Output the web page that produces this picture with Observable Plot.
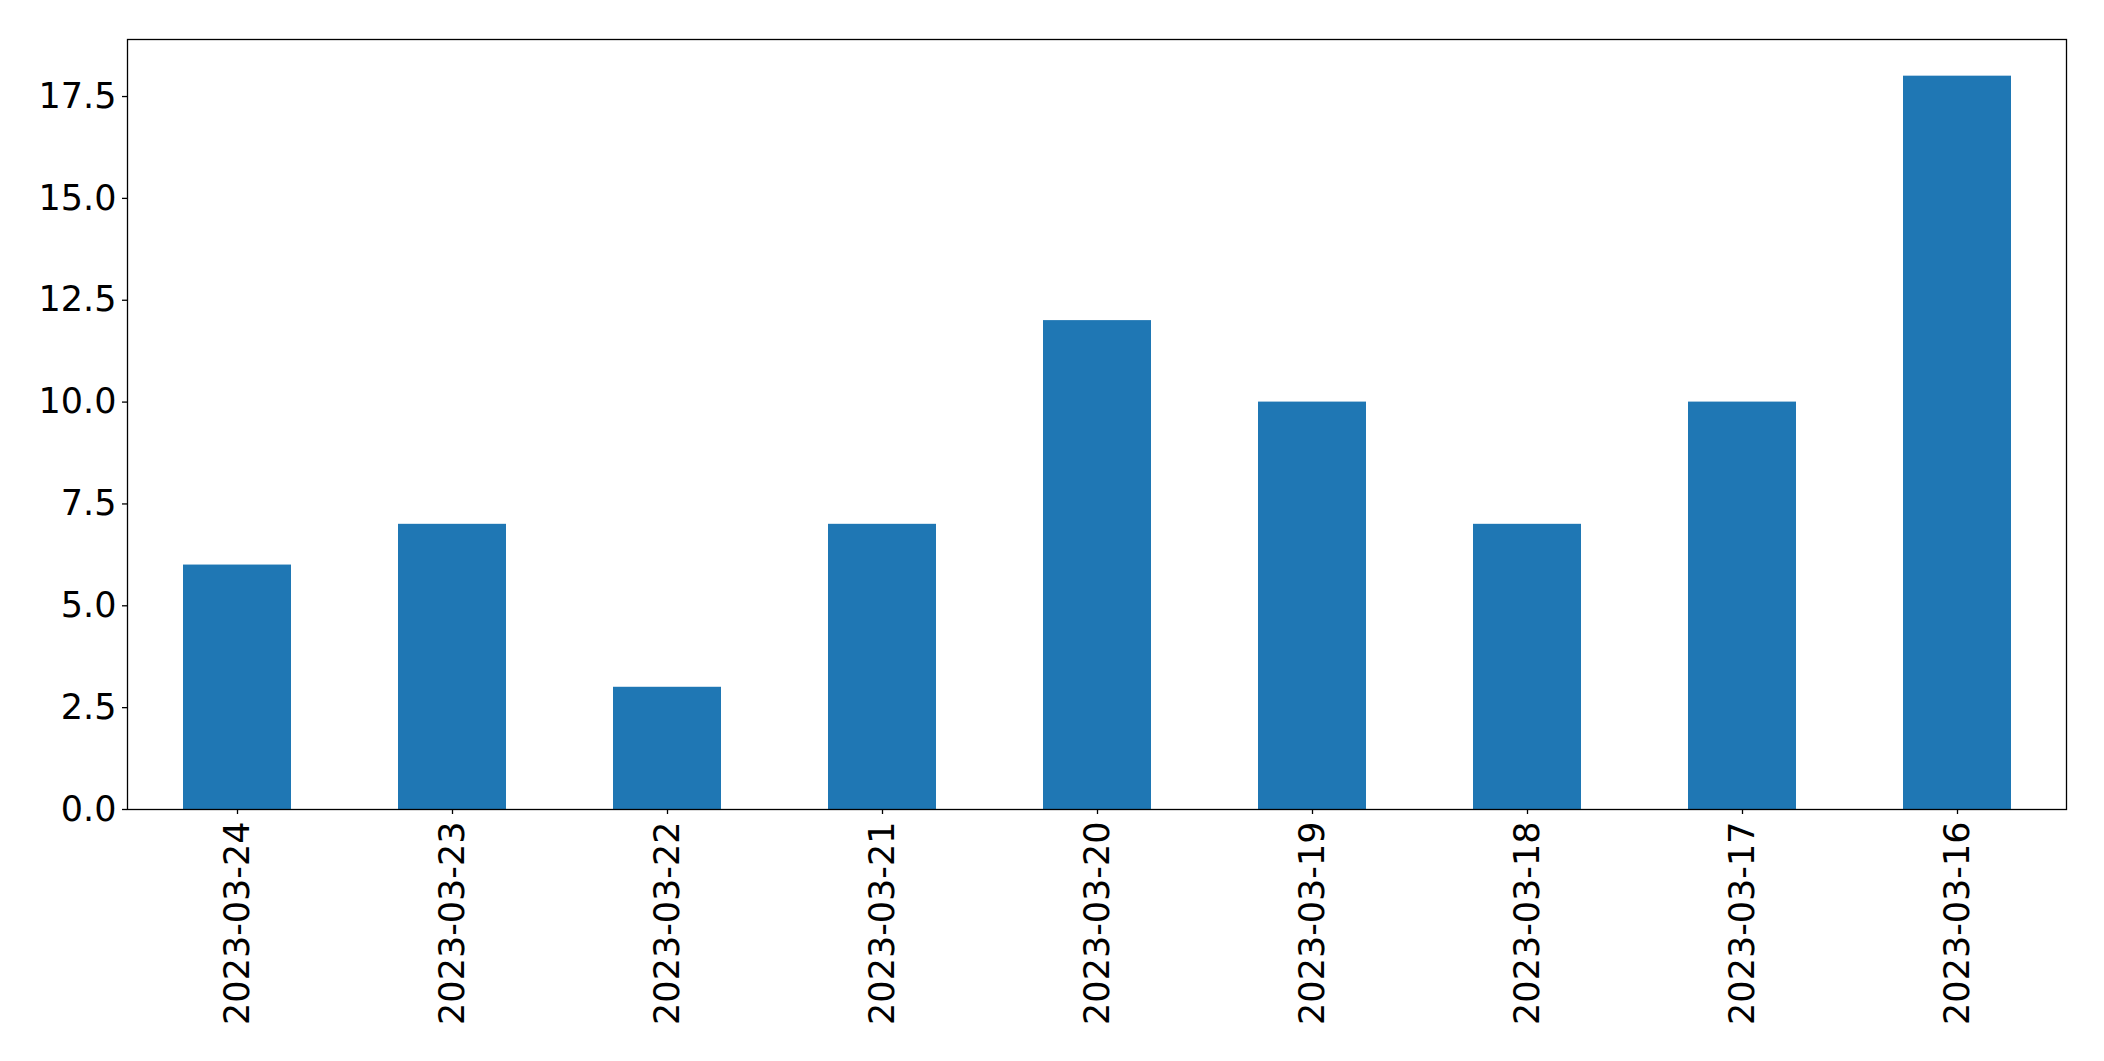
<!DOCTYPE html>
<html>
<head>
<meta charset="utf-8">
<script src="https://cdn.jsdelivr.net/npm/d3@7"></script>
<script src="https://cdn.jsdelivr.net/npm/@observablehq/plot@0.6"></script>
<style>
  html, body { margin: 0; padding: 0; background: #fff; }
  #chart svg { display: block; }
</style>
</head>
<body>
<div id="chart"></div>
<script>
const dates = ["2023-03-24", "2023-03-23", "2023-03-22", "2023-03-21", "2023-03-20", "2023-03-19", "2023-03-18", "2023-03-17", "2023-03-16"];
const counts = [6, 7, 3, 7, 12, 10, 7, 10, 18];
const yTicks = [0, 2.5, 5, 7.5, 10, 12.5, 15, 17.5];

const data = dates.map((d, i) => ({date: d, count: counts[i]}));

const chart = Plot.plot({
  width: 2104,
  height: 1061,
  marginLeft: 127,
  marginRight: 38,
  marginTop: 39,
  marginBottom: 252,
  style: {fontFamily: "DejaVu Sans", fontSize: "35px", color: "#000", background: "#fff"},
  x: {domain: dates, paddingInner: 0.5, paddingOuter: 0.25, label: null},
  y: {domain: [0, 18.9], label: null},
  marks: [
    Plot.barY(data, {x: "date", y: "count", fill: "#1f77b4"}),
    Plot.axisY({ticks: yTicks, tickFormat: d3.format(".1f"), tickSize: 5, tickPadding: 6, fontSize: 35, stroke: "#000", strokeWidth: 1.3, label: null}),
    Plot.axisX({tickRotate: -90, tickSize: 5, tickPadding: 7, fontSize: 35, stroke: "#000", strokeWidth: 1.3, label: null}),
    Plot.frame({stroke: "#000", strokeWidth: 1.3})
  ]
});
document.getElementById("chart").appendChild(chart);
</script>
</body>
</html>
